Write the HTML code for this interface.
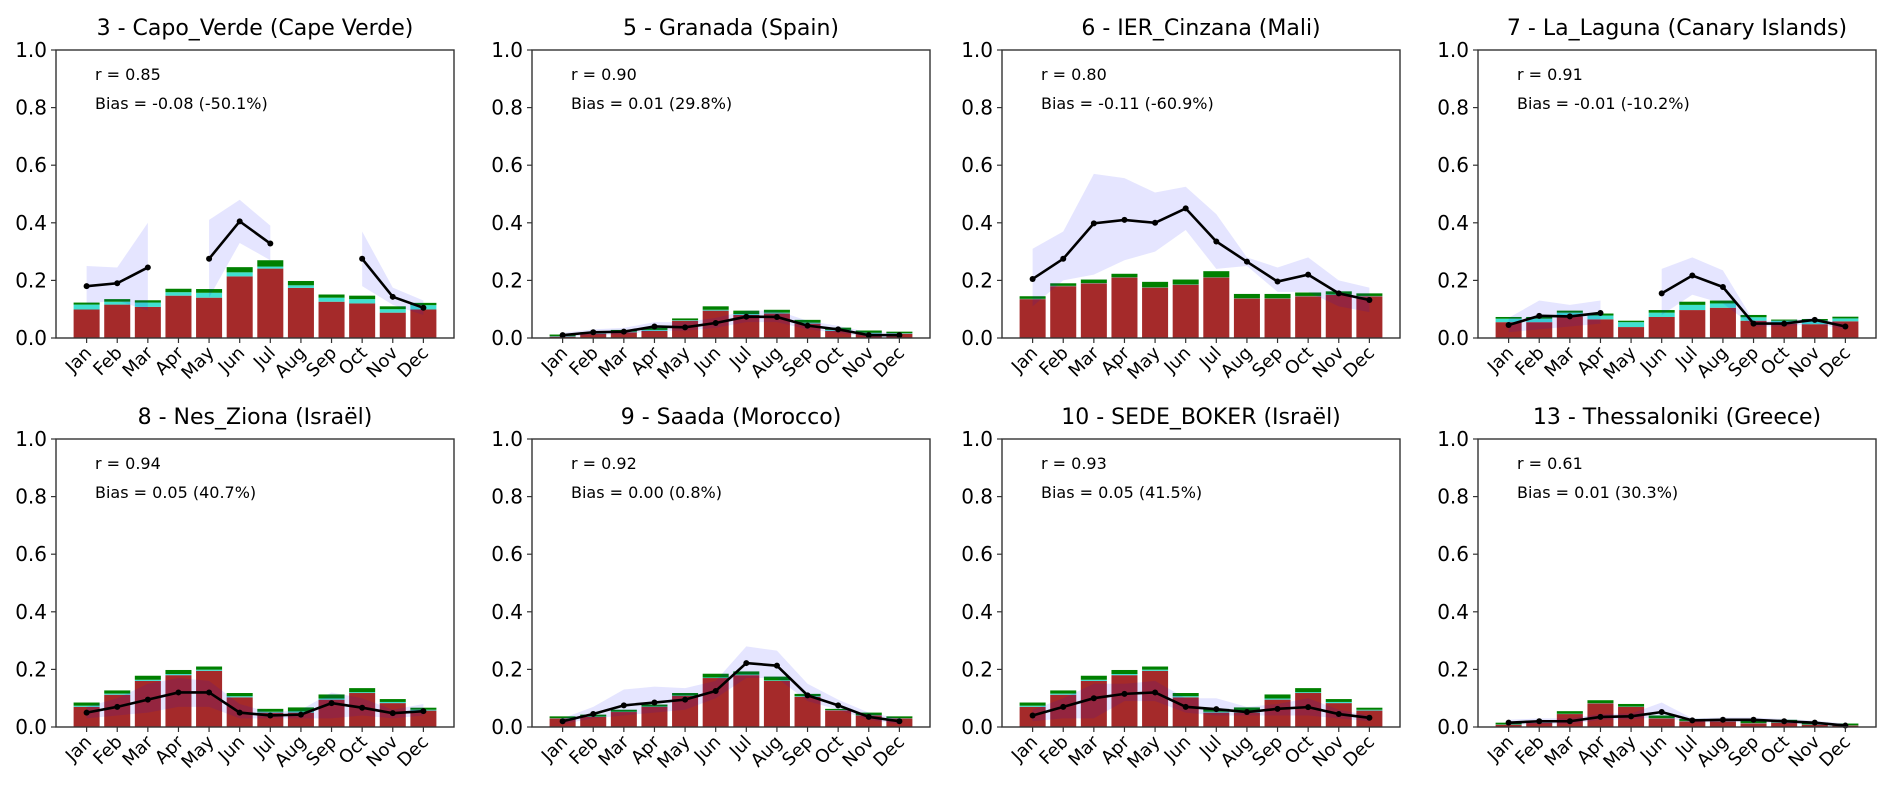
<!DOCTYPE html>
<html><head><meta charset="utf-8">
<style>
html,body{margin:0;padding:0;background:#fff;}
svg{display:block;font-family:"DejaVu Sans","Liberation Sans",sans-serif;}
</style></head>
<body>
<svg id="fig" width="1892" height="794" viewBox="0 0 1892 794" xmlns="http://www.w3.org/2000/svg"></svg>
<script>
const months = ["Jan","Feb","Mar","Apr","May","Jun","Jul","Aug","Sep","Oct","Nov","Dec"];
const yTicks = [0, 0.2, 0.4, 0.6, 0.8, 1.0];
const yTickLabels = ["0.0","0.2","0.4","0.6","0.8","1.0"];
const titles = ["3 - Capo_Verde (Cape Verde)","5 - Granada (Spain)","6 - IER_Cinzana (Mali)","7 - La_Laguna (Canary Islands)","8 - Nes_Ziona (Israël)","9 - Saada (Morocco)","10 - SEDE_BOKER (Israël)","13 - Thessaloniki (Greece)"];
const rTexts = ["r = 0.85","r = 0.90","r = 0.80","r = 0.91","r = 0.94","r = 0.92","r = 0.93","r = 0.61"];
const biasTexts = ["Bias = -0.08 (-50.1%)","Bias = 0.01 (29.8%)","Bias = -0.11 (-60.9%)","Bias = -0.01 (-10.2%)","Bias = 0.05 (40.7%)","Bias = 0.00 (0.8%)","Bias = 0.05 (41.5%)","Bias = 0.01 (30.3%)"];
const redTop = [
 [.099,.116,.108,.147,.140,.214,.241,.174,.126,.120,.088,.099],
 [.005,.015,.020,.025,.060,.095,.080,.085,.050,.025,.015,.015],
 [.135,.180,.190,.210,.175,.185,.210,.137,.137,.145,.150,.145],
 [.055,.055,.075,.065,.038,.073,.097,.105,.060,.050,.048,.058],
 [.070,.112,.160,.180,.195,.103,.050,.050,.095,.118,.083,.057],
 [.030,.035,.052,.070,.108,.170,.180,.160,.105,.058,.040,.030],
 [.070,.112,.160,.180,.195,.103,.050,.050,.095,.118,.083,.057],
 [.008,.015,.045,.082,.070,.030,.020,.020,.013,.015,.008,.005]];
const cyanTop = [
 [.116,.126,.123,.159,.157,.228,.248,.183,.140,.135,.100,.114],
 [.007,.017,.022,.028,.062,.098,.083,.088,.053,.028,.018,.017],
 [.136,.181,.191,.211,.176,.186,.211,.138,.138,.146,.151,.146],
 [.067,.067,.088,.078,.055,.088,.115,.120,.072,.060,.060,.068],
 [.074,.116,.164,.184,.199,.107,.053,.054,.099,.121,.087,.060],
 [.031,.036,.053,.071,.109,.172,.182,.162,.107,.059,.041,.031],
 [.074,.116,.164,.184,.199,.107,.053,.054,.099,.121,.087,.060],
 [.009,.016,.046,.083,.071,.031,.021,.021,.014,.016,.009,.006]];
const greenTop = [
 [.123,.135,.131,.171,.170,.246,.270,.198,.151,.147,.110,.122],
 [.012,.020,.028,.035,.068,.110,.095,.098,.063,.036,.026,.022],
 [.145,.190,.203,.223,.195,.203,.232,.153,.153,.158,.162,.155],
 [.073,.073,.095,.085,.060,.097,.126,.130,.080,.064,.066,.074],
 [.085,.127,.178,.198,.210,.118,.063,.068,.113,.135,.097,.067],
 [.037,.043,.060,.078,.118,.185,.193,.175,.115,.063,.050,.037],
 [.085,.127,.178,.198,.210,.118,.063,.068,.113,.135,.097,.067],
 [.015,.022,.055,.093,.080,.040,.028,.028,.025,.025,.015,.012]];
const obsLine = [
 [.180,.190,.245,null,.275,.405,.328,null,null,.275,.143,.105],
 [.010,.020,.022,.040,.037,.052,.074,.073,.043,.030,.010,.010],
 [.205,.275,.398,.410,.400,.450,.335,.265,.196,.220,.155,.132],
 [.045,.077,.075,.087,null,.155,.217,.177,.050,.050,.063,.040],
 [.050,.070,.095,.120,.120,.050,.040,.043,.083,.067,.048,.055],
 [.020,.045,.075,.085,.095,.125,.222,.213,.110,.075,.035,.020],
 [.040,.070,.100,.115,.120,.070,.062,.052,.063,.069,.045,.032],
 [.015,.020,.020,.035,.037,.052,.023,.025,.025,.020,.015,.005]];
const bandLo = [
 [.120,.130,.095,null,.140,.330,.270,null,null,.180,.115,.080],
 [.003,.010,.012,.025,.025,.035,.055,.055,.030,.018,.003,.003],
 [.110,.200,.220,.270,.300,.375,.240,.250,.160,.160,.110,.090],
 [.020,.030,.040,.050,null,.080,.150,.120,.040,.040,.050,.030],
 [.030,.040,.050,.070,.070,.030,.030,.030,.030,.040,.030,.040],
 [.010,.030,.040,.050,.060,.100,.170,.170,.090,.060,.025,.010],
 [.020,.030,.030,.090,.090,.050,.040,.040,.040,.040,.030,.020],
 [.007,.010,.010,.025,.027,.035,.015,.017,.017,.012,.007,.002]];
const bandHi = [
 [.250,.245,.400,null,.410,.480,.390,null,null,.370,.175,.130],
 [.018,.030,.035,.055,.055,.070,.095,.095,.060,.042,.020,.018],
 [.310,.370,.570,.555,.505,.525,.430,.280,.245,.280,.200,.175],
 [.070,.130,.115,.130,null,.240,.280,.235,.060,.060,.070,.050],
 [.070,.100,.150,.170,.160,.080,.050,.060,.120,.100,.060,.080],
 [.030,.070,.130,.140,.135,.160,.280,.265,.150,.095,.050,.030],
 [.060,.100,.150,.150,.160,.100,.100,.070,.080,.100,.060,.040],
 [.025,.030,.030,.045,.047,.085,.030,.033,.033,.028,.022,.012]];

const NS = "http://www.w3.org/2000/svg";
const svg = document.getElementById('fig');
const panelLeft = [56, 532, 1002, 1478];
const panelTop = [50, 439];
const PW = 398, PH = 288;
function mk(tag, attrs, parent){
  const e = document.createElementNS(NS, tag);
  for (const k in attrs) e.setAttribute(k, attrs[k]);
  (parent||svg).appendChild(e);
  return e;
}
for (let p = 0; p < 8; p++){
  const L = panelLeft[p % 4], T = panelTop[Math.floor(p / 4)];
  const xS = i => L + (i + 1) / 13 * PW;
  const yS = v => T + PH - v * PH;
  const g = mk('g', {});
  
  
  const bw = 0.85 / 13 * PW;
  for (let i = 0; i < 12; i++){
    const segs = [[0, redTop[p][i], '#a52a2a', 'bar-red'], [redTop[p][i], cyanTop[p][i], '#40e0d0', 'bar-cyan'], [cyanTop[p][i], greenTop[p][i], '#008000', 'bar-green']];
    for (const s of segs){
      if (s[1] <= s[0]) continue;
      const r = mk('rect', {x: xS(i) - bw / 2, y: yS(s[1]), width: bw, height: yS(s[0]) - yS(s[1]), fill: s[2]}, g);
      
      
    }
  }
  let seg = [];
  const flush = () => {
    if (seg.length > 1){
      let d = seg.map((i, k) => (k ? 'L' : 'M') + xS(i) + ',' + yS(bandHi[p][i])).join('');
      d += seg.slice().reverse().map(i => 'L' + xS(i) + ',' + yS(bandLo[p][i])).join('') + 'Z';
      const b = mk('path', {d: d, fill: 'rgba(0,0,255,0.1)'}, g);
      
      
    }
    seg = [];
  };
  for (let i = 0; i < 12; i++){ if (bandHi[p][i] === null) flush(); else seg.push(i); }
  flush();
  seg = [];
  const flushL = () => {
    if (seg.length > 1){
      const d = seg.map((i, k) => (k ? 'L' : 'M') + xS(i) + ',' + yS(obsLine[p][i])).join('');
      const l = mk('path', {d: d, fill: 'none', stroke: '#000', 'stroke-width': 2.6}, g);
      
      
    }
    seg = [];
  };
  for (let i = 0; i < 12; i++){ if (obsLine[p][i] === null) flushL(); else seg.push(i); }
  flushL();
  for (let i = 0; i < 12; i++){
    if (obsLine[p][i] === null) continue;
    const c = mk('circle', {cx: xS(i), cy: yS(obsLine[p][i]), r: 3, fill: '#000'}, g);
    
    
  }
  const fr = mk('rect', {x: L, y: T, width: PW, height: PH, fill: 'none', stroke: '#333', 'stroke-width': 1.4}, g);
  
  
  for (let k = 0; k < yTicks.length; k++){
    const y = yS(yTicks[k]);
    mk('line', {x1: L - 5, x2: L, y1: y, y2: y, stroke: '#333', 'stroke-width': 1.2}, g);
    const t = mk('text', {x: L - 9, y: y + 7, 'text-anchor': 'end', 'font-size': 20, fill: '#000'}, g);
    t.textContent = yTickLabels[k];
    
    
  }
  for (let i = 0; i < 12; i++){
    const x = xS(i);
    mk('line', {x1: x, x2: x, y1: T + PH, y2: T + PH + 5, stroke: '#333', 'stroke-width': 1.2}, g);
    const t = mk('text', {x: x + 6, y: T + PH + 16, 'text-anchor': 'end', 'font-size': 18, fill: '#000', transform: 'rotate(-45 ' + (x + 6) + ' ' + (T + PH + 16) + ')'}, g);
    t.textContent = months[i];
    
    
  }
  const ti = mk('text', {x: L + PW / 2, y: T - 15, 'text-anchor': 'middle', 'font-size': 22, fill: '#000'}, g);
  ti.textContent = titles[p];
  
  
  const rt = mk('text', {x: L + 39, y: T + 30, 'font-size': 16, fill: '#000'}, g);
  rt.textContent = rTexts[p];
  
  
  const bt = mk('text', {x: L + 39, y: T + 59, 'font-size': 16, fill: '#000'}, g);
  bt.textContent = biasTexts[p];
  
  
}
</script>
</body></html>
